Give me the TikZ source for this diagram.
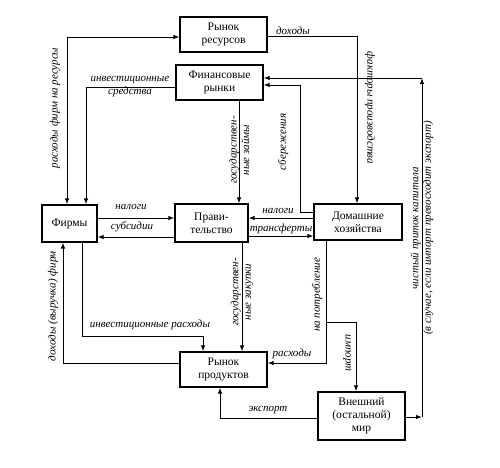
\documentclass[tikz,border=0pt]{standalone}
\usepackage{fontspec}
\setmainfont{Liberation Serif}
\usetikzlibrary{arrows.meta}
\begin{document}
\begin{tikzpicture}[x=1pt,y=-1pt,
  >={Latex[length=6pt,width=4.5pt]},
  box/.style={draw,line width=1.1pt,align=center,inner sep=0pt,
    font=\fontsize{11.5}{13}\selectfont},
  conn/.style={line width=1pt},
  lbl/.style={font=\fontsize{11}{12.5}\selectfont\itshape,inner sep=1pt,align=center}]
\useasboundingbox (0,0) rectangle (500,467);
% boxes
\node[box,minimum width=87pt,minimum height=35pt] (res) at (223.5,34.5) {Рынок\\ресурсов};
\node[box,minimum width=87pt,minimum height=35pt] (fin) at (219.5,82.5) {Финансовые\\рынки};
\node[box,minimum width=55pt,minimum height=37pt] (firms) at (69.5,223.5) {Фирмы};
\node[box,minimum width=73pt,minimum height=38pt] (gov) at (211.5,223) {Прави-\\тельство};
\node[box,minimum width=88pt,minimum height=36pt] (hh) at (358,222) {Домашние\\хозяйства};
\node[box,minimum width=87pt,minimum height=35pt] (prod) at (223.5,369.5) {Рынок\\продуктов};
\node[box,minimum width=87pt,minimum height=48pt] (world) at (361.5,416) {Внешний\\(остальной)\\мир};
% turning points
\coordinate (kA) at (67,37);
\coordinate (kB) at (86,87);
\coordinate (kC) at (239,0);
\coordinate (kD) at (300,212);
\coordinate (kD2) at (300,85);
\coordinate (kE) at (357,36);
\coordinate (kF1) at (422,417);
\coordinate (kF2) at (422,78);
\coordinate (kK) at (82,336);
\coordinate (kK2) at (203,336);
\coordinate (kL) at (242,0);
\coordinate (kM) at (63,363);
\coordinate (kN) at (326,363);
\coordinate (kO) at (326,322);
\coordinate (kO2) at (356,322);
\coordinate (kP) at (220,418);
% connectors
\draw[conn,<->] (firms.north -| kA) |- (res.west |- kA);
\draw[conn,->] (fin.west |- kB) -| (firms.north -| kB);
\draw[conn,->] (fin.south -| kC) -- (gov.north -| kC);
\draw[conn,->] (hh.west |- kD) -- (kD) -- (kD2) -- (fin.east |- kD2);
\draw[conn,->] (res.east |- kE) -| (hh.north -| kE);
\draw[conn,->] (world.east |- kF1) -- (kF1);
\draw[conn,->] (kF1) -- (kF2);
\draw[conn,->] (kF2) -- (fin.east |- kF2);
\draw[conn,->] (firms.east |- 0,218) -- (gov.west |- 0,218);
\draw[conn,->] (gov.west |- 0,237) -- (firms.east |- 0,237);
\draw[conn,->] (hh.west |- 0,218) -- (gov.east |- 0,218);
\draw[conn,->] (gov.east |- 0,236) -- (hh.west |- 0,236);
\draw[conn,->] (firms.south -| kK) |- (kK2) -- (prod.north -| kK2);
\draw[conn,->] (gov.south -| kL) -- (prod.north -| kL);
\draw[conn,->] (prod.west |- kM) -| (firms.south -| kM);
\draw[conn,->] (hh.south -| kN) |- (prod.east |- kN);
\draw[conn,->] (kO) -- (kO2) -- (world.north -| kO2);
\draw[conn,->] (world.west |- kP) -| (prod.south -| kP);
% labels
\node[lbl,rotate=90] (l1) at (55,108) {расходы фирм на ресурсы};
\node[lbl] (l2) at (130,86.5) {инвестиционные\\средства};
\node[lbl,rotate=90] (l3) at (239,150) {государствен-\\ные займы};
\node[lbl,rotate=90] (l4) at (283,142) {сбережения};
\node[lbl] (l5) at (293,31) {доходы};
\node[lbl,rotate=-90] (l6) at (370,108) {факторы производства};
\node[lbl,rotate=90] (l7) at (422,228) {чистый приток капитала\\(в случае, если импорт превосходит экспорт)};
\node[lbl] (l8) at (131,207) {налоги};
\node[lbl] (l9) at (132,227) {субсидии};
\node[lbl] (l10) at (278,211) {налоги};
\node[lbl] (l11) at (281,229) {трансферты};
\node[lbl] (l12) at (150,325) {инвестиционные расходы};
\node[lbl,rotate=90] (l13) at (242,292) {государствен-\\ные закупки};
\node[lbl,rotate=90] (l14) at (53,306) {доходы (выручка) фирм};
\node[lbl,rotate=90] (l15) at (317,295) {на потребление};
\node[lbl] (l16) at (292,354) {расходы};
\node[lbl,rotate=-90] (l17) at (347,353) {импорт};
\node[lbl] (l18) at (268,410) {экспорт};
\end{tikzpicture}
\end{document}
